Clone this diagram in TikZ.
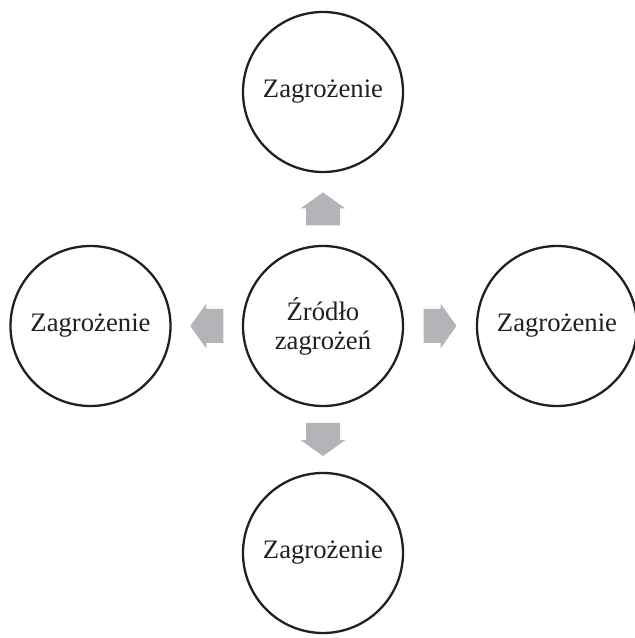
\documentclass[tikz,border=0pt]{standalone}
\usepackage{fontspec}
\setmainfont{Liberation Serif}
\usetikzlibrary{calc}
\definecolor{arrowgray}{RGB}{179,180,184}
\definecolor{inkdark}{RGB}{35,31,32}
\tikzset{
  circ/.style={circle, draw=inkdark, line width=2.3pt, minimum size=160pt, inner sep=0pt,
    font=\fontsize{26.7}{29}\selectfont, text=inkdark, align=center},
  barrow/.pic={\fill[arrowgray] (-16.5,-17) -- (0.5,-17) -- (0.5,-22.5) -- (16.5,0) -- (0.5,22.5) -- (0.5,17) -- (-16.5,17) -- cycle;}
}
\begin{document}
\begin{tikzpicture}[x=1pt,y=1pt]
\useasboundingbox (0,0) rectangle (635,638);
\node[circ] (c) at (323,312) {Źródło\\zagrożeń};
\node[circ] (t) at (323,546) {Zagrożenie};
\node[circ] (l) at (90.5,312) {Zagrożenie};
\node[circ] (r) at (557,312) {Zagrożenie};
\node[circ] (b) at (323,85) {Zagrożenie};
\pic[rotate=90] at ($(c)!0.5!(t)$) {barrow};
\pic[rotate=180] at ($(c)!0.5!(l)$) {barrow};
\pic at ($(c)!0.5!(r)$) {barrow};
\pic[rotate=-90] at ($(c)!0.5!(b)$) {barrow};
\end{tikzpicture}
\end{document}
